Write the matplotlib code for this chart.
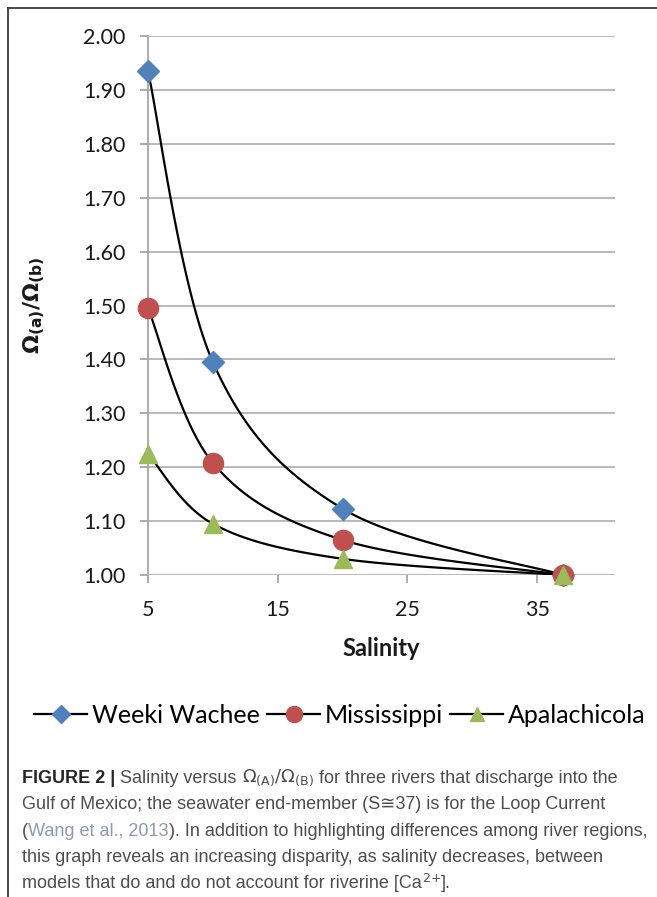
import numpy as np
import matplotlib
matplotlib.use("Agg")
import matplotlib.pyplot as plt
from matplotlib.lines import Line2D
from matplotlib import font_manager

# --- data ---
salinity = [5, 10, 20, 37]
weeki_wachee = [1.935, 1.395, 1.123, 1.000]
mississippi = [1.495, 1.208, 1.065, 1.000]
apalachicola = [1.225, 1.095, 1.030, 1.000]

series_names = ["Weeki Wachee", "Mississippi", "Apalachicola"]
x_ticks = [5, 15, 25, 35]
y_ticks = [1.0, 1.1, 1.2, 1.3, 1.4, 1.5, 1.6, 1.7, 1.8, 1.9, 2.0]

W, H = 657, 897
DPI = 100


def smooth_line(xs, ys, n=40):
    """Excel style smoothed line: Bezier pieces through the points."""
    p = np.column_stack([xs, ys]).astype(float)
    ext = np.vstack([p[0], p, p[-1]])
    out = []
    for i in range(len(p) - 1):
        p0, p1 = ext[i + 1], ext[i + 2]
        c1 = p0 + (ext[i + 2] - ext[i]) / 6.0
        c2 = p1 - (ext[i + 3] - ext[i + 1]) / 6.0
        t = np.linspace(0, 1, n)[:, None]
        seg = ((1 - t) ** 3 * p0 + 3 * (1 - t) ** 2 * t * c1
               + 3 * (1 - t) * t ** 2 * c2 + t ** 3 * p1)
        out.append(seg if i == 0 else seg[1:])
    seg = np.vstack(out)
    return seg[:, 0], seg[:, 1]


available = {f.name for f in font_manager.fontManager.ttflist}
chart_font = "Lato" if "Lato" in available else "DejaVu Sans"
cap_font = "Liberation Sans Narrow" if "Liberation Sans Narrow" in available else "Liberation Sans"

plt.rcParams["font.family"] = [chart_font, "DejaVu Sans"]
plt.rcParams["mathtext.fontset"] = "dejavusans"

fig = plt.figure(figsize=(W / DPI, H / DPI), dpi=DPI)
fig.patch.set_facecolor("white")

# outer frame (only left and top visible in the reference)
fig.add_artist(Line2D([8 / W, 8 / W], [0, 1 - 8 / H], color="#3a3a3a", lw=1.3,
                      transform=fig.transFigure))
fig.add_artist(Line2D([8 / W, 1], [1 - 8 / H, 1 - 8 / H], color="#3a3a3a", lw=1.3,
                      transform=fig.transFigure))

ax = fig.add_axes([148 / W, 1 - 575 / H, (615 - 148) / W, (575 - 36) / H])
ax.set_xlim(5, 41)
ax.set_ylim(1.0, 2.0)

colors = ["#4F81BD", "#C0504D", "#9BBB59"]
markers = ["D", "o", "^"]
msizes = [11, 14.5, 12.5]
handles = []
for ys, name, c, m, ms in zip([weeki_wachee, mississippi, apalachicola],
                              series_names, colors, markers, msizes):
    sx, sy = smooth_line(salinity, ys)
    ax.plot(sx, sy, color="black", lw=1.6, zorder=3)
    ax.plot(salinity, ys, linestyle="none", marker=m, ms=ms, color=c,
            markeredgecolor=c, zorder=4, clip_on=False)
    handles.append(Line2D([0], [0], color="black", lw=1.6, marker=m, ms=ms * 0.8,
                          markerfacecolor=c, markeredgecolor=c, label=name))

ax.set_yticks(y_ticks)
ax.set_yticklabels([f"{v:.2f}" for v in y_ticks])
ax.set_xticks(x_ticks)
ax.yaxis.grid(True, color="#b3b3b3", lw=1.3)
ax.set_axisbelow(True)
for s in ["top", "right", "bottom"]:
    ax.spines[s].set_visible(False)
ax.spines["left"].set_color("#a6a6a6")
ax.spines["left"].set_linewidth(1.3)
ax.tick_params(axis="y", length=6, width=1.3, color="#a6a6a6", labelsize=15.5,
               pad=10, labelcolor="#1a1a1a")
ax.tick_params(axis="x", length=6, width=1.3, color="#a6a6a6", labelsize=15.5,
               pad=12, labelcolor="#1a1a1a")

ax.set_xlabel("Salinity", fontsize=17, fontweight="bold", labelpad=12, color="#1a1a1a")
ax.set_ylabel(r"$\mathbf{\Omega_{(a)}/\Omega_{(b)}}$", fontsize=16, labelpad=26,
              color="#1a1a1a")

fig.legend(handles=handles, loc="center", bbox_to_anchor=(340 / W, 1 - 715 / H),
           ncol=3, frameon=False, fontsize=18, handlelength=2.1,
           handletextpad=0.2, columnspacing=0.3)

# --- caption ---
cap_color = "#4d4d4d"
link_color = "#8c9bb0"
caption_lines = [
    [("FIGURE 2 | ", "bold", "#262626"),
     ("Salinity versus ", "normal", cap_color),
     (r"$\Omega_{(\mathrm{A})}/\Omega_{(\mathrm{B})}$", "normal", cap_color),
     (" for three rivers that discharge into the", "normal", cap_color)],
    [("Gulf of Mexico; the seawater end-member (S\u224537) is for the Loop Current",
      "normal", cap_color)],
    [("(", "normal", cap_color), ("Wang et al., 2013", "normal", link_color),
     ("). In addition to highlighting differences among river regions,", "normal", cap_color)],
    [("this graph reveals an increasing disparity, as salinity decreases, between",
      "normal", cap_color)],
    [("models that do and do not account for riverine [Ca", "normal", cap_color),
     (r"$^{2{+}}$", "normal", cap_color), ("].", "normal", cap_color)],
]
cap_y = [778, 804, 831, 857, 883]

fig.canvas.draw()
renderer = fig.canvas.get_renderer()
for pieces, yy in zip(caption_lines, cap_y):
    x = 22
    for txt, weight, col in pieces:
        t = fig.text(x / W, 1 - yy / H, txt, fontsize=13, fontweight=weight,
                     color=col, va="center", ha="left",
                     family=[cap_font, "DejaVu Sans"])
        bb = t.get_window_extent(renderer=renderer)
        x += bb.width

fig.savefig("out.png", dpi=DPI)
